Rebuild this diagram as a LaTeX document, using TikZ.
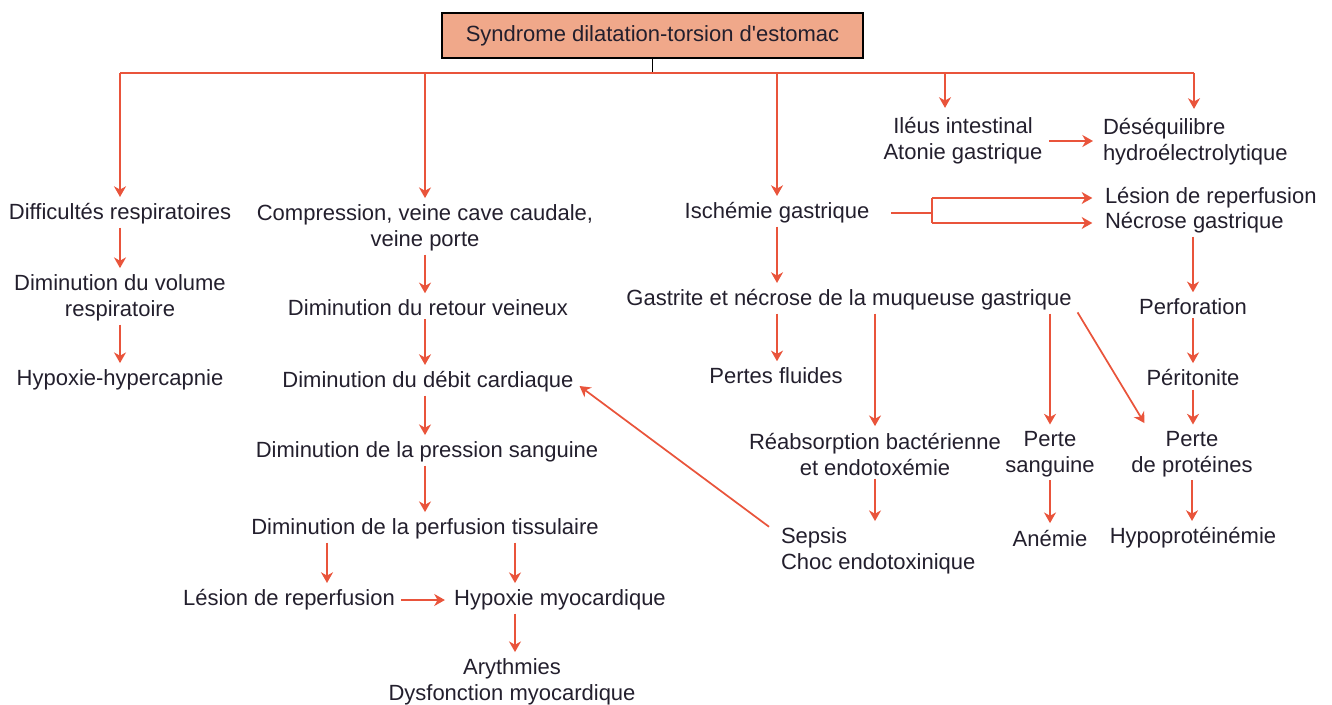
\documentclass[tikz,border=0pt]{standalone}
\usepackage{fontspec}
\setmainfont{Liberation Sans}
\usetikzlibrary{arrows.meta,calc}
\definecolor{ored}{RGB}{233,84,59}
\definecolor{boxfill}{RGB}{240,168,138}
\definecolor{txt}{RGB}{35,31,45}
\begin{document}
\begin{tikzpicture}[x=0.75pt,y=-0.75pt,
  lbl/.style={font=\fontsize{16.5}{19.5}\selectfont, text=txt, inner sep=0pt, outer sep=0pt, align=center},
  ln/.style={draw=ored, line width=1.3pt},
  tip/.style={ln, -{Stealth[length=8pt,width=9pt,inset=2.5pt]}, shorten >=5pt},
  a2n/.style={tip, shorten <=2.5pt},
]
\useasboundingbox (0,0) rectangle (1332,704);

% nodes
\node[lbl, draw=black, line width=1.5pt, fill=boxfill, minimum width=315.75pt, minimum height=33.75pt] (top) at (652.5,35.5) {Syndrome dilatation-torsion d\textquotesingle estomac};

\node[lbl] (difr) at (120,214) {Difficultés respiratoires};
\node[lbl] (dimv) at (120,298) {Diminution du volume\\respiratoire};
\node[lbl] (hyph) at (120,380) {Hypoxie-hypercapnie};

\node[lbl] (comp) at (425,228) {Compression, veine cave caudale,\\veine porte};
\node[lbl] (dimr) at (428,308) {Diminution du retour veineux};
\node[lbl] (dimd) at (428,382) {Diminution du débit cardiaque};
\node[lbl] (dimp) at (427,452) {Diminution de la pression sanguine};
\node[lbl] (perf) at (425,529) {Diminution de la perfusion tissulaire};
\node[lbl] (lesr) at (289,600) {Lésion de reperfusion};
\node[lbl] (hypm) at (560,600) {Hypoxie myocardique};
\node[lbl] (arym) at (512,682) {Arythmies\\Dysfonction myocardique};

\node[lbl] (isch) at (777,213) {Ischémie gastrique};
\node[lbl] (gast) at (849,300) {Gastrite et nécrose de la muqueuse gastrique};
\node[lbl] (perfl) at (776,376) {Pertes fluides};
\node[lbl] (reab) at (875,454) {Réabsorption bactérienne\\et endotoxémie};
\node[lbl, anchor=west, align=left] (seps) at (781,551) {Sepsis\\Choc endotoxinique};
\node[lbl] (sang) at (1050,454) {Perte\\sanguine};
\node[lbl] (anem) at (1050,538) {Anémie};
\node[lbl] (prot) at (1192,454) {Perte\\de protéines};
\node[lbl] (hypo) at (1193,538) {Hypoprotéinémie};
\node[lbl] (perfo) at (1193,307) {Perforation};
\node[lbl] (peri) at (1193,378) {Péritonite};

\node[lbl] (ileus) at (963,141) {Iléus intestinal\\Atonie gastrique};
\node[lbl, anchor=west, align=left] (deseq) at (1103,142) {Déséquilibre\\hydroélectrolytique};
\node[lbl, anchor=west] (lrep) at (1105,198) {Lésion de reperfusion};
\node[lbl, anchor=west] (necr) at (1105,223) {Nécrose gastrique};

% top bus
\coordinate (bus) at (652.5,73);
\coordinate (busL) at (120,73);
\coordinate (busR) at (1194,73);
\draw[black, line width=1.3pt] (top.south) -- (bus);
\draw[ln] (busL) -- (busR);
\draw[tip] (busL) -- (difr.north -| busL);
\draw[tip] (comp.north |- bus) -- (comp.north);
\draw[tip] (isch.north |- bus) -- (isch.north);
\coordinate (ilIn) at ($(ileus.north)+(-18,0)$);
\draw[tip, shorten >=7.3pt] (ilIn |- bus) -- (ilIn);
\draw[tip, shorten >=7.3pt] (busR) -- (deseq.north -| busR);

% column 1
\draw[a2n] (difr.south) -- (difr.south |- dimv.north);
\draw[a2n] (dimv.south) -- (dimv.south |- hyph.north);

% column 2
\draw[a2n] (comp.south) -- (comp.south |- dimr.north);
\draw[a2n] (comp.south |- dimr.south) -- (comp.south |- dimd.north);
\draw[a2n] (comp.south |- dimd.south) -- (comp.south |- dimp.north);
\draw[a2n] (comp.south |- dimp.south) -- (comp.south |- perf.north);
\coordinate (pL) at ($(perf.south)+(-98,0)$);
\coordinate (pR) at ($(perf.south)+(90,0)$);
\draw[a2n] (pL) -- (pL |- lesr.north);
\draw[a2n] (pR) -- (pR |- hypm.north);
\draw[tip, shorten <=5pt, shorten >=7pt] (lesr.east) -- (lesr.east -| hypm.west);
\draw[a2n] (pR |- hypm.south) -- (pR |- arym.north);

% column 3
\draw[a2n] (isch.south) -- (isch.south |- gast.north);
\coordinate (isO) at ($(isch.east)+(22,0)$);
\coordinate (fk) at ($(isch.east)+(63,0)$);
\draw[ln] (isO) -- (fk);
\draw[ln] (fk |- lrep.west) -- (fk |- necr.west);
\draw[tip, shorten >=9.5pt] (fk |- lrep.west) -- (lrep.west);
\draw[tip, shorten >=9.5pt] (fk |- necr.west) -- (necr.west);

\draw[a2n] (gast.south -| isch.south) -- (isch.south |- perfl.north);
\draw[a2n] (gast.south -| reab.north) -- (reab.north);
\draw[a2n] (gast.south -| sang.north) -- (sang.north);
\coordinate (dg1) at ($(gast.south east)+(6,2)$);
\coordinate (dg2) at ($(prot.north west)+(13,-8)$);
\draw[tip, shorten >=0pt] (dg1) -- (dg2);

\draw[a2n] (reab.south) -- (reab.south |- seps.north);
\draw[a2n] (sang.south) -- (sang.south |- anem.north);
\draw[a2n] (prot.south) -- (prot.south |- hypo.north);

% right column
\draw[a2n] (perfo.north |- necr.south) -- (perfo.north);
\draw[a2n] (perfo.south) -- (perfo.south |- peri.north);
\draw[a2n] (peri.south) -- (peri.south |- prot.north);
\draw[tip, shorten <=5pt, shorten >=7.5pt] (ileus.east) -- (ileus.east -| deseq.west);

% feedback arrow
\coordinate (s1) at ($(seps.north west)+(-12,-1)$);
\coordinate (s2) at ($(dimd.east)+(6,4)$);
\draw[tip, shorten >=0pt] (s1) -- (s2);
\end{tikzpicture}
\end{document}
